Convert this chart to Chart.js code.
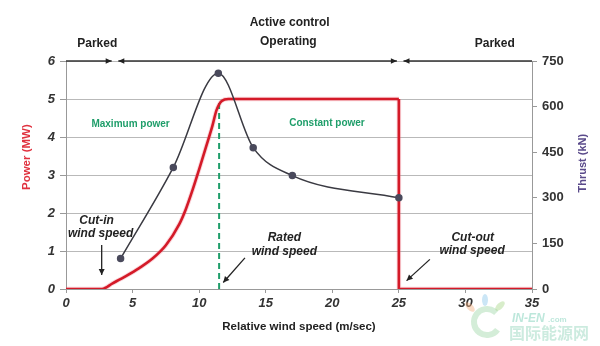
<!DOCTYPE html>
<html>
<head>
<meta charset="utf-8">
<script src="https://cdn.jsdelivr.net/npm/chart.js@4/dist/chart.umd.min.js"></script>
<style>
  html, body { margin: 0; padding: 0; background: #fff; }
  #wrap { width: 600px; height: 346px; }
</style>
</head>
<body>
<div id="wrap"><canvas id="myChart" width="600" height="346"></canvas></div>
<script>
// wind speed (m/sec) and power (MW), rising part up to the plateau
var powerX = [0, 2.7, 3.5, 4.5, 5.5, 6.5, 7.5, 8.5, 9.0, 9.5, 10.0, 10.5, 11.0, 11.3, 11.7, 12.2, 13.5, 25];
var powerY = [0, 0, 0.15, 0.34, 0.55, 0.8, 1.15, 1.7, 2.1, 2.6, 3.15, 3.72, 4.3, 4.7, 4.95, 5.0, 5.0, 5.0];
// cut-out drop
var cutoutX = [25, 25, 35];
var cutoutY = [5, 0, 0];
// thrust (kN), right axis
var thrustX = [4.1, 8.06, 11.44, 14.06, 17.0, 25];
var thrustY = [100, 400, 710, 465, 373, 300];
// rated wind speed marker
var ratedX = [11.5, 11.5];
var ratedY = [0, 4.97];

var xTicks = [0, 5, 10, 15, 20, 25, 30, 35];
var powerTicks = [0, 1, 2, 3, 4, 5, 6];
var thrustTicks = [0, 150, 300, 450, 600, 750];

// operating phases along the top edge
var phaseBounds = [0, 3.68, 25.1, 35];

// labels placed in data units (x: m/sec, y: MW)
var headerLabels = [
    { text: 'Active control', x: 16.8, y: 7.0 },
    { text: 'Operating', x: 16.7, y: 6.52 },
    { text: 'Parked', x: 2.35, y: 6.45 },
    { text: 'Parked', x: 32.2, y: 6.45 }
];
var regionLabels = [
    { text: 'Maximum power', x: 4.85, y: 4.34 },
    { text: 'Constant power', x: 19.6, y: 4.37 }
];
var calloutLabels = [
    { text: 'Cut-in', x: 2.3, y: 1.79 },
    { text: 'wind speed', x: 2.6, y: 1.45 },
    { text: 'Rated', x: 16.4, y: 1.34 },
    { text: 'wind speed', x: 16.4, y: 0.97 },
    { text: 'Cut-out', x: 30.55, y: 1.35 },
    { text: 'wind speed', x: 30.5, y: 1.0 }
];
// [fromX, fromY, toX, toY]
var calloutArrows = [
    [2.68, 1.16, 2.68, 0.37],
    [13.44, 0.82, 11.81, 0.17],
    [27.33, 0.78, 25.58, 0.22]
];

var FONT = '"Liberation Sans", Arial, sans-serif';
Chart.defaults.font.family = FONT;

function pts(xs, ys) {
    return xs.map(function (v, i) { return { x: v, y: ys[i] }; });
}

function arrowHead(ctx, x1, y1, x2, y2, len, half) {
    var a = Math.atan2(y2 - y1, x2 - x1);
    ctx.beginPath();
    ctx.moveTo(x2, y2);
    ctx.lineTo(x2 - len * Math.cos(a) + half * Math.sin(a), y2 - len * Math.sin(a) - half * Math.cos(a));
    ctx.lineTo(x2 - len * Math.cos(a) - half * Math.sin(a), y2 - len * Math.sin(a) + half * Math.cos(a));
    ctx.closePath();
    ctx.fill();
}

var overlay = {
    id: 'overlay',
    afterDraw: function (chart) {
        var ctx = chart.ctx;
        var xs = chart.scales.x, ys = chart.scales.y;
        var px = function (v) { return xs.getPixelForValue(v); };
        var py = function (v) { return ys.getPixelForValue(v); };
        ctx.save();

        // top line with phase arrows
        var top = py(6);
        var gap = 3.3;
        ctx.strokeStyle = '#333';
        ctx.fillStyle = '#222';
        ctx.lineWidth = 1.6;
        for (var i = 0; i < phaseBounds.length - 1; i++) {
            var a = px(phaseBounds[i]) + (i > 0 ? gap : 0);
            var b = px(phaseBounds[i + 1]) - (i < phaseBounds.length - 2 ? gap : 0);
            ctx.beginPath();
            ctx.moveTo(a, top);
            ctx.lineTo(b, top);
            ctx.stroke();
            if (i > 0) arrowHead(ctx, a + 6, top, a, top, 6, 2.8);
            if (i < phaseBounds.length - 2) arrowHead(ctx, b - 6, top, b, top, 6, 2.8);
        }

        ctx.textAlign = 'center';
        ctx.textBaseline = 'middle';

        ctx.fillStyle = '#222';
        ctx.font = 'bold 12px ' + FONT;
        headerLabels.forEach(function (l) { ctx.fillText(l.text, px(l.x), py(l.y)); });

        ctx.fillStyle = '#1f9e6a';
        ctx.font = 'bold 10px ' + FONT;
        regionLabels.forEach(function (l) { ctx.fillText(l.text, px(l.x), py(l.y)); });

        ctx.fillStyle = '#222';
        ctx.font = 'italic bold 12px ' + FONT;
        calloutLabels.forEach(function (l) { ctx.fillText(l.text, px(l.x), py(l.y)); });

        ctx.strokeStyle = '#222';
        ctx.lineWidth = 1.3;
        calloutArrows.forEach(function (r) {
            var x1 = px(r[0]), y1 = py(r[1]), x2 = px(r[2]), y2 = py(r[3]);
            ctx.beginPath();
            ctx.moveTo(x1, y1);
            ctx.lineTo(x2, y2);
            ctx.stroke();
            arrowHead(ctx, x1, y1, x2, y2, 6, 3);
        });

        // axis titles (both read bottom to top)
        ctx.font = 'bold 11.5px ' + FONT;
        ctx.fillStyle = '#e0323f';
        ctx.save();
        ctx.translate(27, py(3.47));
        ctx.rotate(-Math.PI / 2);
        ctx.fillText('Power (MW)', 0, 0);
        ctx.restore();

        ctx.font = 'bold 11px ' + FONT;
        ctx.fillStyle = '#5a4a8a';
        ctx.save();
        ctx.translate(583, py(3.31));
        ctx.rotate(-Math.PI / 2);
        ctx.fillText('Thrust (kN)', 0, 0);
        ctx.restore();

        // faint watermark
        ctx.globalAlpha = 0.45;
        ctx.strokeStyle = '#9fd6a8';
        ctx.lineWidth = 6;
        ctx.beginPath();
        ctx.arc(487, 322, 13, 0.2 * Math.PI, 1.75 * Math.PI);
        ctx.stroke();
        ctx.fillStyle = '#f4b183';
        ctx.beginPath(); ctx.ellipse(470, 307, 3, 6, -0.8, 0, 2 * Math.PI); ctx.fill();
        ctx.fillStyle = '#8cc8ea';
        ctx.beginPath(); ctx.ellipse(485, 300, 3, 6, 0, 0, 2 * Math.PI); ctx.fill();
        ctx.fillStyle = '#a8d88a';
        ctx.beginPath(); ctx.ellipse(500, 306, 3, 6, 0.8, 0, 2 * Math.PI); ctx.fill();
        ctx.textAlign = 'left';
        ctx.fillStyle = '#6cc9b0';
        ctx.font = 'italic bold 12px ' + FONT;
        ctx.fillText('IN-EN', 512, 319);
        ctx.font = 'bold 8px ' + FONT;
        ctx.fillText('.com', 548, 320);
        ctx.fillStyle = '#8fd3b8';
        ctx.font = 'bold 16px "Noto Sans CJK SC", sans-serif';
        ctx.fillText('国际能源网', 509, 333);
        ctx.restore();
    }
};

new Chart(document.getElementById('myChart').getContext('2d'), {
    type: 'line',
    data: {
        datasets: [
            {
                data: pts(thrustX, thrustY),
                yAxisID: 'y1',
                borderColor: '#3a3a42',
                borderWidth: 1.5,
                pointRadius: 3,
                pointBackgroundColor: '#4a4a5c',
                pointBorderColor: '#4a4a5c',
                cubicInterpolationMode: 'monotone',
                order: 1
            },
            {
                data: pts(powerX, powerY),
                yAxisID: 'y',
                borderColor: '#d41a28',
                borderWidth: 2.6,
                pointRadius: 0,
                cubicInterpolationMode: 'monotone',
                order: 2
            },
            {
                data: pts(cutoutX, cutoutY),
                yAxisID: 'y',
                borderColor: '#d41a28',
                borderWidth: 2.6,
                pointRadius: 0,
                tension: 0,
                order: 2
            },
            {
                data: pts(powerX, powerY),
                yAxisID: 'y',
                borderColor: 'rgba(240,120,135,0.3)',
                borderWidth: 4.5,
                pointRadius: 0,
                cubicInterpolationMode: 'monotone',
                order: 4
            },
            {
                data: pts(cutoutX, cutoutY),
                yAxisID: 'y',
                borderColor: 'rgba(240,120,135,0.3)',
                borderWidth: 4.5,
                pointRadius: 0,
                tension: 0,
                order: 4
            },
            {
                data: pts(ratedX, ratedY),
                yAxisID: 'y',
                borderColor: '#1f9e6a',
                borderWidth: 2,
                borderDash: [6, 4],
                pointRadius: 0,
                order: 3
            }
        ]
    },
    options: {
        responsive: false,
        animation: false,
        layout: { padding: { top: 61, left: 0, right: 0, bottom: 0 } },
        plugins: { legend: { display: false }, tooltip: { enabled: false } },
        scales: {
            x: {
                type: 'linear',
                min: 0,
                max: 35,
                afterBuildTicks: function (s) { s.ticks = xTicks.map(function (v) { return { value: v }; }); },
                afterFit: function (s) { s.height = 57; },
                ticks: { color: '#333', padding: 3, font: { size: 13, weight: 'bold', style: 'italic' } },
                grid: { drawOnChartArea: false, tickLength: 4, color: '#999' },
                border: { color: '#999' },
                title: {
                    display: true,
                    text: 'Relative wind speed (m/sec)',
                    color: '#222',
                    font: { size: 11.5, weight: 'bold' },
                    padding: { top: 0, bottom: 12 }
                }
            },
            y: {
                position: 'left',
                min: 0,
                max: 6,
                afterBuildTicks: function (s) { s.ticks = powerTicks.map(function (v) { return { value: v }; }); },
                afterFit: function (s) { s.width = 66; },
                ticks: { color: '#333', padding: 5, font: { size: 13, weight: 'bold', style: 'italic' } },
                grid: { color: '#b9b9b9', tickLength: 6, tickColor: '#999' },
                border: { color: '#999' }
            },
            y1: {
                position: 'right',
                min: 0,
                max: 750,
                afterBuildTicks: function (s) { s.ticks = thrustTicks.map(function (v) { return { value: v }; }); },
                afterFit: function (s) { s.width = 68; },
                ticks: { color: '#333', padding: 5, font: { size: 13, weight: 'bold' } },
                grid: { drawOnChartArea: false, tickLength: 5, color: '#999' },
                border: { color: '#999' }
            }
        }
    },
    plugins: [overlay]
});
</script>
</body>
</html>
